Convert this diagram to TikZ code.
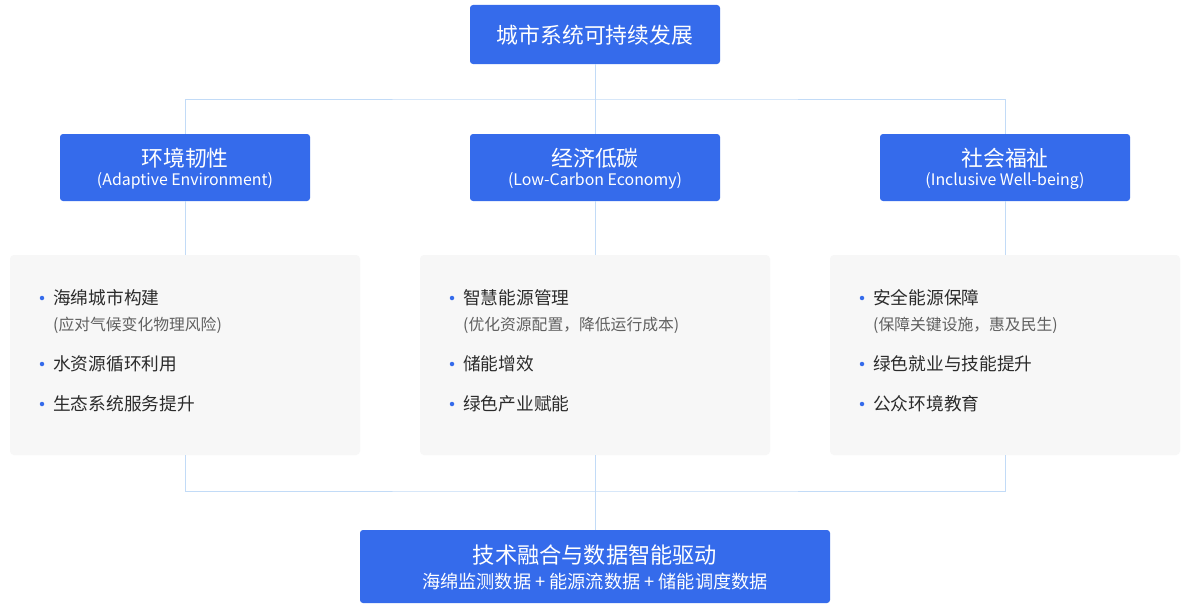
\documentclass[tikz,border=0pt]{standalone}
\usepackage{fontspec}
\setmainfont{Noto Sans CJK SC}
\definecolor{bbl}{HTML}{356BEB}
\definecolor{lnc}{HTML}{C2DBF7}
\definecolor{cbg}{HTML}{F7F7F7}
\definecolor{txd}{HTML}{2B2B2B}
\definecolor{txg}{HTML}{606060}
\tikzset{
  bluebox/.style={fill=bbl, rounded corners=3pt, text=white, align=center, inner sep=0pt},
  cardbox/.style={fill=cbg, rounded corners=4pt, inner sep=0pt, minimum width=350pt, minimum height=200pt},
  conn/.style={draw=lnc, line width=0.9pt},
  itm/.style={anchor=west, text=txd, inner sep=0pt, font=\fontsize{17.7}{20}\selectfont},
  sub/.style={anchor=west, text=txg, inner sep=0pt, font=\fontsize{15.8}{18}\selectfont},
  dot/.style={circle, fill=bbl, inner sep=0pt, minimum size=4.5pt},
  ttl/.style={font=\fontsize{21.8}{25}\selectfont},
  eng/.style={font=\fontsize{15.9}{18}\selectfont},
}
\begin{document}
\begin{tikzpicture}[x=1pt,y=-1pt]
\useasboundingbox (0,0) rectangle (1190,610);
\fill[white] (0,0) rectangle (1190,610);
% coordinates
\coordinate (j1) at (595,99);
\coordinate (j2) at (595,491);
% cards
\node[cardbox] (c1) at (185,355) {};
\node[cardbox] (c2) at (595,355) {};
\node[cardbox] (c3) at (1005,355) {};
% top
\node[bluebox, minimum width=250pt, minimum height=59pt] (top) at (595,34.5) {};
\node[text=white, ttl, inner sep=0pt] (topt) at (595,35) {城市系统可持续发展};
% mid boxes
\node[bluebox, minimum width=250pt, minimum height=67pt] (m1) at (185,167.5) {};
\node[bluebox, minimum width=250pt, minimum height=67pt] (m2) at (595,167.5) {};
\node[bluebox, minimum width=250pt, minimum height=67pt] (m3) at (1005,167.5) {};
\node[text=white, ttl, inner sep=0pt] (m1t) at (185,158) {环境韧性};
\node[text=white, eng, inner sep=0pt] (m1s) at (185,181) {(Adaptive Environment)};
\node[text=white, ttl, inner sep=0pt] (m2t) at (595,158) {经济低碳};
\node[text=white, eng, inner sep=0pt] (m2s) at (595,181) {(Low-Carbon Economy)};
\node[text=white, ttl, inner sep=0pt] (m3t) at (1005,158) {社会福祉};
\node[text=white, eng, inner sep=0pt] (m3s) at (1005,181) {(Inclusive Well-being)};
% bottom
\node[bluebox, minimum width=470pt, minimum height=73pt] (bot) at (595,566.5) {};
\node[text=white, inner sep=0pt, font=\fontsize{22.2}{25}\selectfont] (bott) at (595,555) {技术融合与数据智能驱动};
\node[text=white, inner sep=0pt, font=\fontsize{18.2}{20}\selectfont] (bots) at (595,582) {海绵监测数据 + 能源流数据 + 储能调度数据};
% connectors
\draw[conn] (top.south) -- (m2.north);
\draw[conn] (m1.north) |- (j1) -| (m3.north);
\draw[conn] (m1.south) -- (c1.north);
\draw[conn] (m2.south) -- (c2.north);
\draw[conn] (m3.south) -- (c3.north);
\draw[conn] (c1.south) |- (j2) -| (c3.south);
\draw[conn] (c2.south) -- (bot.north);
% card 1
\node[dot] (d11) at (42,298) {};
\node[itm] (i11) at (53,298) {海绵城市构建};
\node[sub] (s11) at (53,325) {(应对气候变化物理风险)};
\node[dot] (d12) at (42,364) {};
\node[itm] (i12) at (53,364) {水资源循环利用};
\node[dot] (d13) at (42,404) {};
\node[itm] (i13) at (53,404) {生态系统服务提升};
% card 2
\node[dot] (d21) at (452,298) {};
\node[itm] (i21) at (463,298) {智慧能源管理};
\node[sub] (s21) at (463,325) {(优化资源配置，降低运行成本)};
\node[dot] (d22) at (452,364) {};
\node[itm] (i22) at (463,364) {储能增效};
\node[dot] (d23) at (452,404) {};
\node[itm] (i23) at (463,404) {绿色产业赋能};
% card 3
\node[dot] (d31) at (862,298) {};
\node[itm] (i31) at (873,298) {安全能源保障};
\node[sub] (s31) at (873,325) {(保障关键设施，惠及民生)};
\node[dot] (d32) at (862,364) {};
\node[itm] (i32) at (873,364) {绿色就业与技能提升};
\node[dot] (d33) at (862,404) {};
\node[itm] (i33) at (873,404) {公众环境教育};
\end{tikzpicture}
\end{document}
